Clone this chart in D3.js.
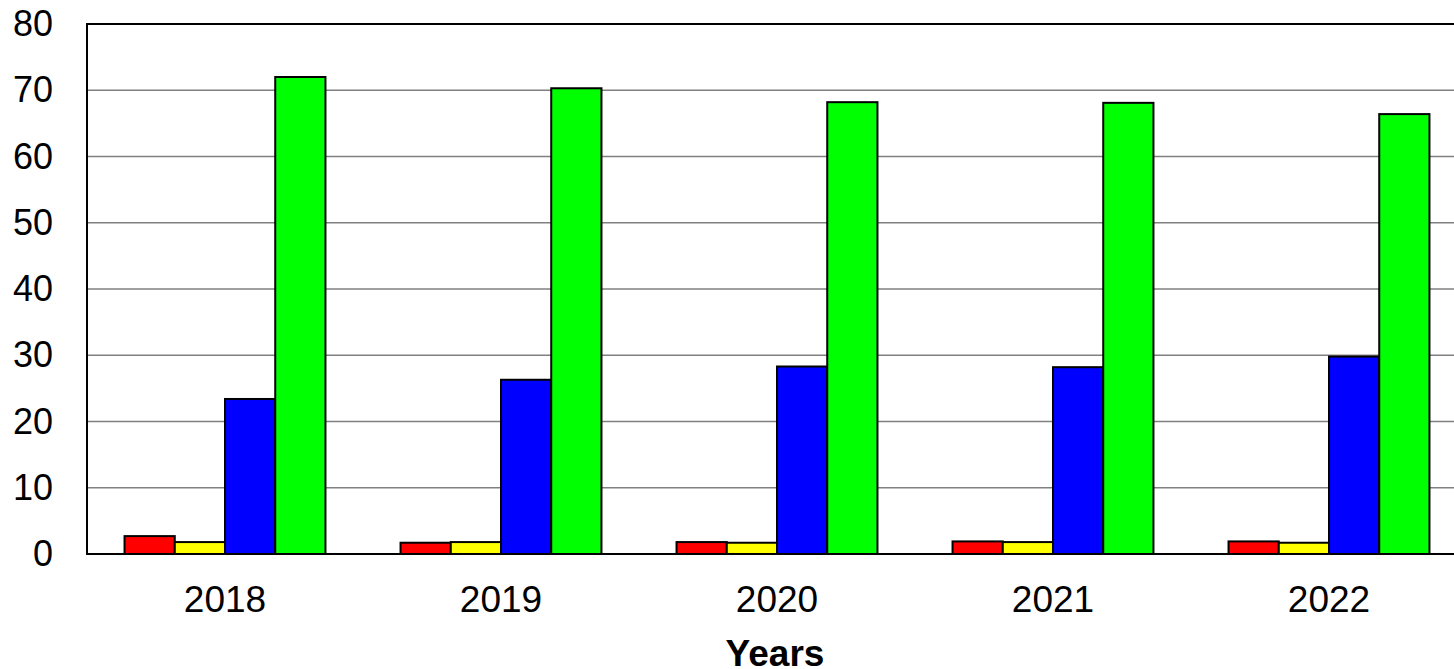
<!DOCTYPE html>
<html>
<head>
<meta charset="utf-8">
<script src="https://cdn.jsdelivr.net/npm/d3@7"></script>
<style>
  body { margin: 0; background: #fff; overflow: hidden; }
  text { font-family: "Liberation Sans", Arial, sans-serif; }
</style>
</head>
<body>
<div id="chart"></div>
<script>
// data
var years = ["2018", "2019", "2020", "2021", "2022"];
var seriesNames = ["red", "yellow", "blue", "green"];
var seriesColors = ["#ff0000", "#ffff00", "#0000ff", "#00ff00"];
var redValues = [2.7, 1.7, 1.8, 1.9, 1.9];
var yellowValues = [1.8, 1.8, 1.7, 1.8, 1.7];
var blueValues = [23.4, 26.3, 28.3, 28.2, 29.8];
var greenValues = [72.0, 70.3, 68.2, 68.1, 66.4];
var yTicks = [0, 10, 20, 30, 40, 50, 60, 70, 80];

var series = [redValues, yellowValues, blueValues, greenValues];

var W = 1454, H = 669;
var margin = {top: 24, right: -13, bottom: 115, left: 87},
    width = W - margin.left - margin.right,
    height = H - margin.top - margin.bottom;

var svg = d3.select("#chart").append("svg")
    .attr("width", W)
    .attr("height", H);

var g = svg.append("g")
    .attr("transform", "translate(" + margin.left + "," + margin.top + ")");

var x0 = d3.scaleBand().domain(years).range([0, width]).paddingInner(0.272).paddingOuter(0.136);
var x1 = d3.scaleBand().domain(seriesNames).range([0, x0.bandwidth()]);
var y = d3.scaleLinear().domain([0, 80]).range([height, 0]);

// gridlines
g.selectAll("line.grid")
    .data(yTicks.slice(1, -1))
  .enter().append("line")
    .attr("class", "grid")
    .attr("x1", 0).attr("x2", width)
    .attr("y1", function(d) { return y(d); })
    .attr("y2", function(d) { return y(d); })
    .style("stroke", "#808080")
    .style("stroke-width", 1.5);

// bars
var groups = g.selectAll("g.year")
    .data(years)
  .enter().append("g")
    .attr("class", "year")
    .attr("transform", function(d) { return "translate(" + x0(d) + ",0)"; });

groups.selectAll("rect")
    .data(function(d, i) {
      return seriesNames.map(function(s, j) { return {s: s, v: series[j][i], c: seriesColors[j]}; });
    })
  .enter().append("rect")
    .attr("x", function(d) { return x1(d.s); })
    .attr("width", x1.bandwidth())
    .attr("y", function(d) { return y(d.v); })
    .attr("height", function(d) { return height - y(d.v); })
    .style("fill", function(d) { return d.c; })
    .style("stroke", "#000")
    .style("stroke-width", 2);

// frame
g.append("rect")
    .attr("x", 0).attr("y", 0)
    .attr("width", width).attr("height", height)
    .style("fill", "none")
    .style("stroke", "#000")
    .style("stroke-width", 2);

// y axis labels
var yAxis = d3.axisLeft(y).tickValues(yTicks).tickSize(0).tickPadding(34);
g.append("g").call(yAxis)
  .call(function(a) { a.select(".domain").remove(); })
  .selectAll("text")
    .style("font-size", "36px")
    .style("fill", "#000")
    .attr("font-family", "Liberation Sans, Arial, sans-serif");

// x axis labels
var xAxis = d3.axisBottom(x0).tickSize(0).tickPadding(32);
g.append("g")
    .attr("transform", "translate(0," + height + ")")
    .call(xAxis)
  .call(function(a) { a.select(".domain").remove(); })
  .selectAll("text")
    .style("font-size", "37px")
    .style("fill", "#000")
    .attr("font-family", "Liberation Sans, Arial, sans-serif");

// x title
svg.append("text")
    .attr("x", 775)
    .attr("y", 666)
    .attr("text-anchor", "middle")
    .style("font-size", "37px")
    .style("font-weight", "bold")
    .text("Years");
</script>
</body>
</html>
